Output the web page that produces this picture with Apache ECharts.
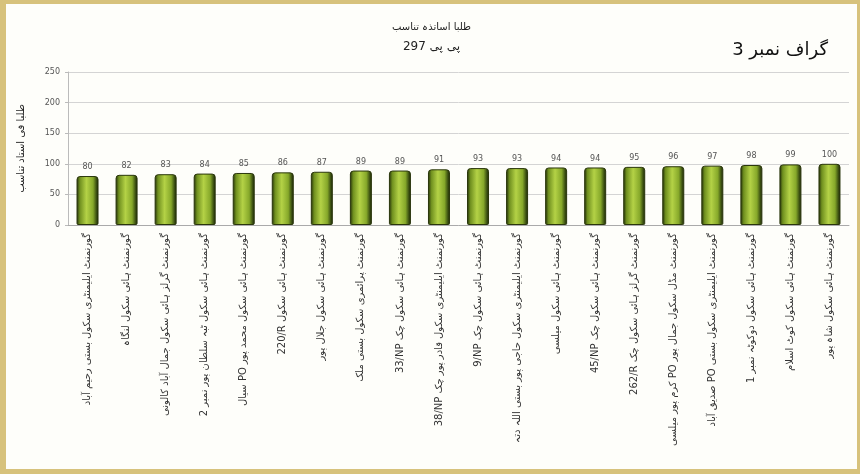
<!DOCTYPE html>
<html>
<head>
<meta charset="utf-8">
<script src="https://cdn.jsdelivr.net/npm/echarts@6/dist/echarts.min.js"></script>
<style>
html,body{margin:0;padding:0;width:860px;height:474px;overflow:hidden;background:#d7c27c;}
#wrap{position:absolute;left:6px;top:4px;width:851px;height:465px;background:#fefefa;}
#main{width:851px;height:465px;}
</style>
</head>
<body>
<div id="wrap"><div id="main"></div></div>
<script>
const titleText = "طلبا اساتذہ تناسب";
const subtitleText = "پی پی 297";
const graphLabel = "گراف نمبر 3";
const yAxisName = "طلبا فی استاد تناسب";
const categories = [
  "گورنمنٹ ایلیمنٹری سکول بستی رحیم آباد",
  "گورنمنٹ ہائی سکول لنگاہ",
  "گورنمنٹ گرلز ہائی سکول جمال آباد کالونی",
  "گورنمنٹ ہائی سکول ٹبہ سلطان پور نمبر 2",
  "گورنمنٹ ہائی سکول محمد پور PO سیال",
  "گورنمنٹ ہائی سکول 220/R",
  "گورنمنٹ ہائی سکول جلال پور",
  "گورنمنٹ پرائمری سکول بستی ملک",
  "گورنمنٹ ہائی سکول چک 33/NP",
  "گورنمنٹ ایلیمنٹری سکول قادر پور چک 38/NP",
  "گورنمنٹ ہائی سکول چک 9/NP",
  "گورنمنٹ ایلیمنٹری سکول حاجی پور بستی اللہ دتہ",
  "گورنمنٹ ہائی سکول میلسی",
  "گورنمنٹ ہائی سکول چک 45/NP",
  "گورنمنٹ گرلز ہائی سکول چک 262/R",
  "گورنمنٹ مڈل سکول جمال پور PO کرم پور میلسی",
  "گورنمنٹ ایلیمنٹری سکول بستی PO صدیق آباد",
  "گورنمنٹ ہائی سکول دوکوٹہ نمبر 1",
  "گورنمنٹ ہائی سکول کوٹ اسلام",
  "گورنمنٹ ہائی سکول شاہ پور"
];
const values = [80, 82, 83, 84, 85, 86, 87, 89, 89, 91, 93, 93, 94, 94, 95, 96, 97, 98, 99, 100];
const yTicks = {min: 0, max: 250, interval: 50};

const rtl = s => '\u202B' + s.replace(/[0-9A-Za-z\/]*[A-Za-z\/][0-9A-Za-z\/]*/g, m => '\u202A' + m + '\u202C') + '\u202C';
const chart = echarts.init(document.getElementById('main'));
const F = '"DejaVu Sans", sans-serif';
chart.setOption({
  animation: false,
  backgroundColor: '#fefefa',
  textStyle: {fontFamily: F},
  title: [
    {text: rtl(titleText), left: 'center', top: 13, textStyle: {fontSize: 10, fontWeight: 'normal', color: '#222', fontFamily: F}},
    {text: rtl(subtitleText), left: 'center', top: 32, textStyle: {fontSize: 12, fontWeight: 'normal', color: '#222', fontFamily: F}},
    {text: graphLabel, right: 24, top: 32, textStyle: {fontSize: 18, fontWeight: 'normal', color: '#111', fontFamily: F}}
  ],
  grid: {left: 62, right: 8, top: 68, bottom: 244, containLabel: false},
  xAxis: {
    type: 'category',
    data: categories,
    axisLine: {lineStyle: {color: '#aaa'}},
    axisTick: {show: false},
    axisLabel: {rotate: 90, interval: 0, fontSize: 10, color: '#333', margin: 8, fontFamily: F,
      formatter: v => rtl(v)}
  },
  yAxis: {
    type: 'value',
    min: yTicks.min, max: yTicks.max, interval: yTicks.interval,
    name: rtl(yAxisName), nameLocation: 'middle', nameGap: 42, nameRotate: 90,
    nameTextStyle: {fontSize: 10, color: '#222', fontFamily: F},
    axisLine: {show: true, lineStyle: {color: '#bbb'}},
    axisTick: {show: true, length: 3, lineStyle: {color: '#bbb'}},
    axisLabel: {fontSize: 8, color: '#555', margin: 8},
    splitLine: {lineStyle: {color: '#d4d4d4'}}
  },
  series: [{
    type: 'bar',
    data: values,
    barWidth: 22,
    itemStyle: {
      borderRadius: [3, 3, 1, 1],
      borderColor: '#2a360c',
      borderWidth: 1,
      color: new echarts.graphic.LinearGradient(0, 0, 1, 0, [
        {offset: 0, color: '#1f2a07'},
        {offset: 0.15, color: '#6f8f1f'},
        {offset: 0.45, color: '#b4d246'},
        {offset: 0.75, color: '#86a82a'},
        {offset: 0.9, color: '#3d5212'},
        {offset: 1, color: '#1a2305'}
      ])
    },
    label: {show: true, position: 'top', fontSize: 8, color: '#555', distance: 5}
  }]
});
</script>
</body>
</html>
